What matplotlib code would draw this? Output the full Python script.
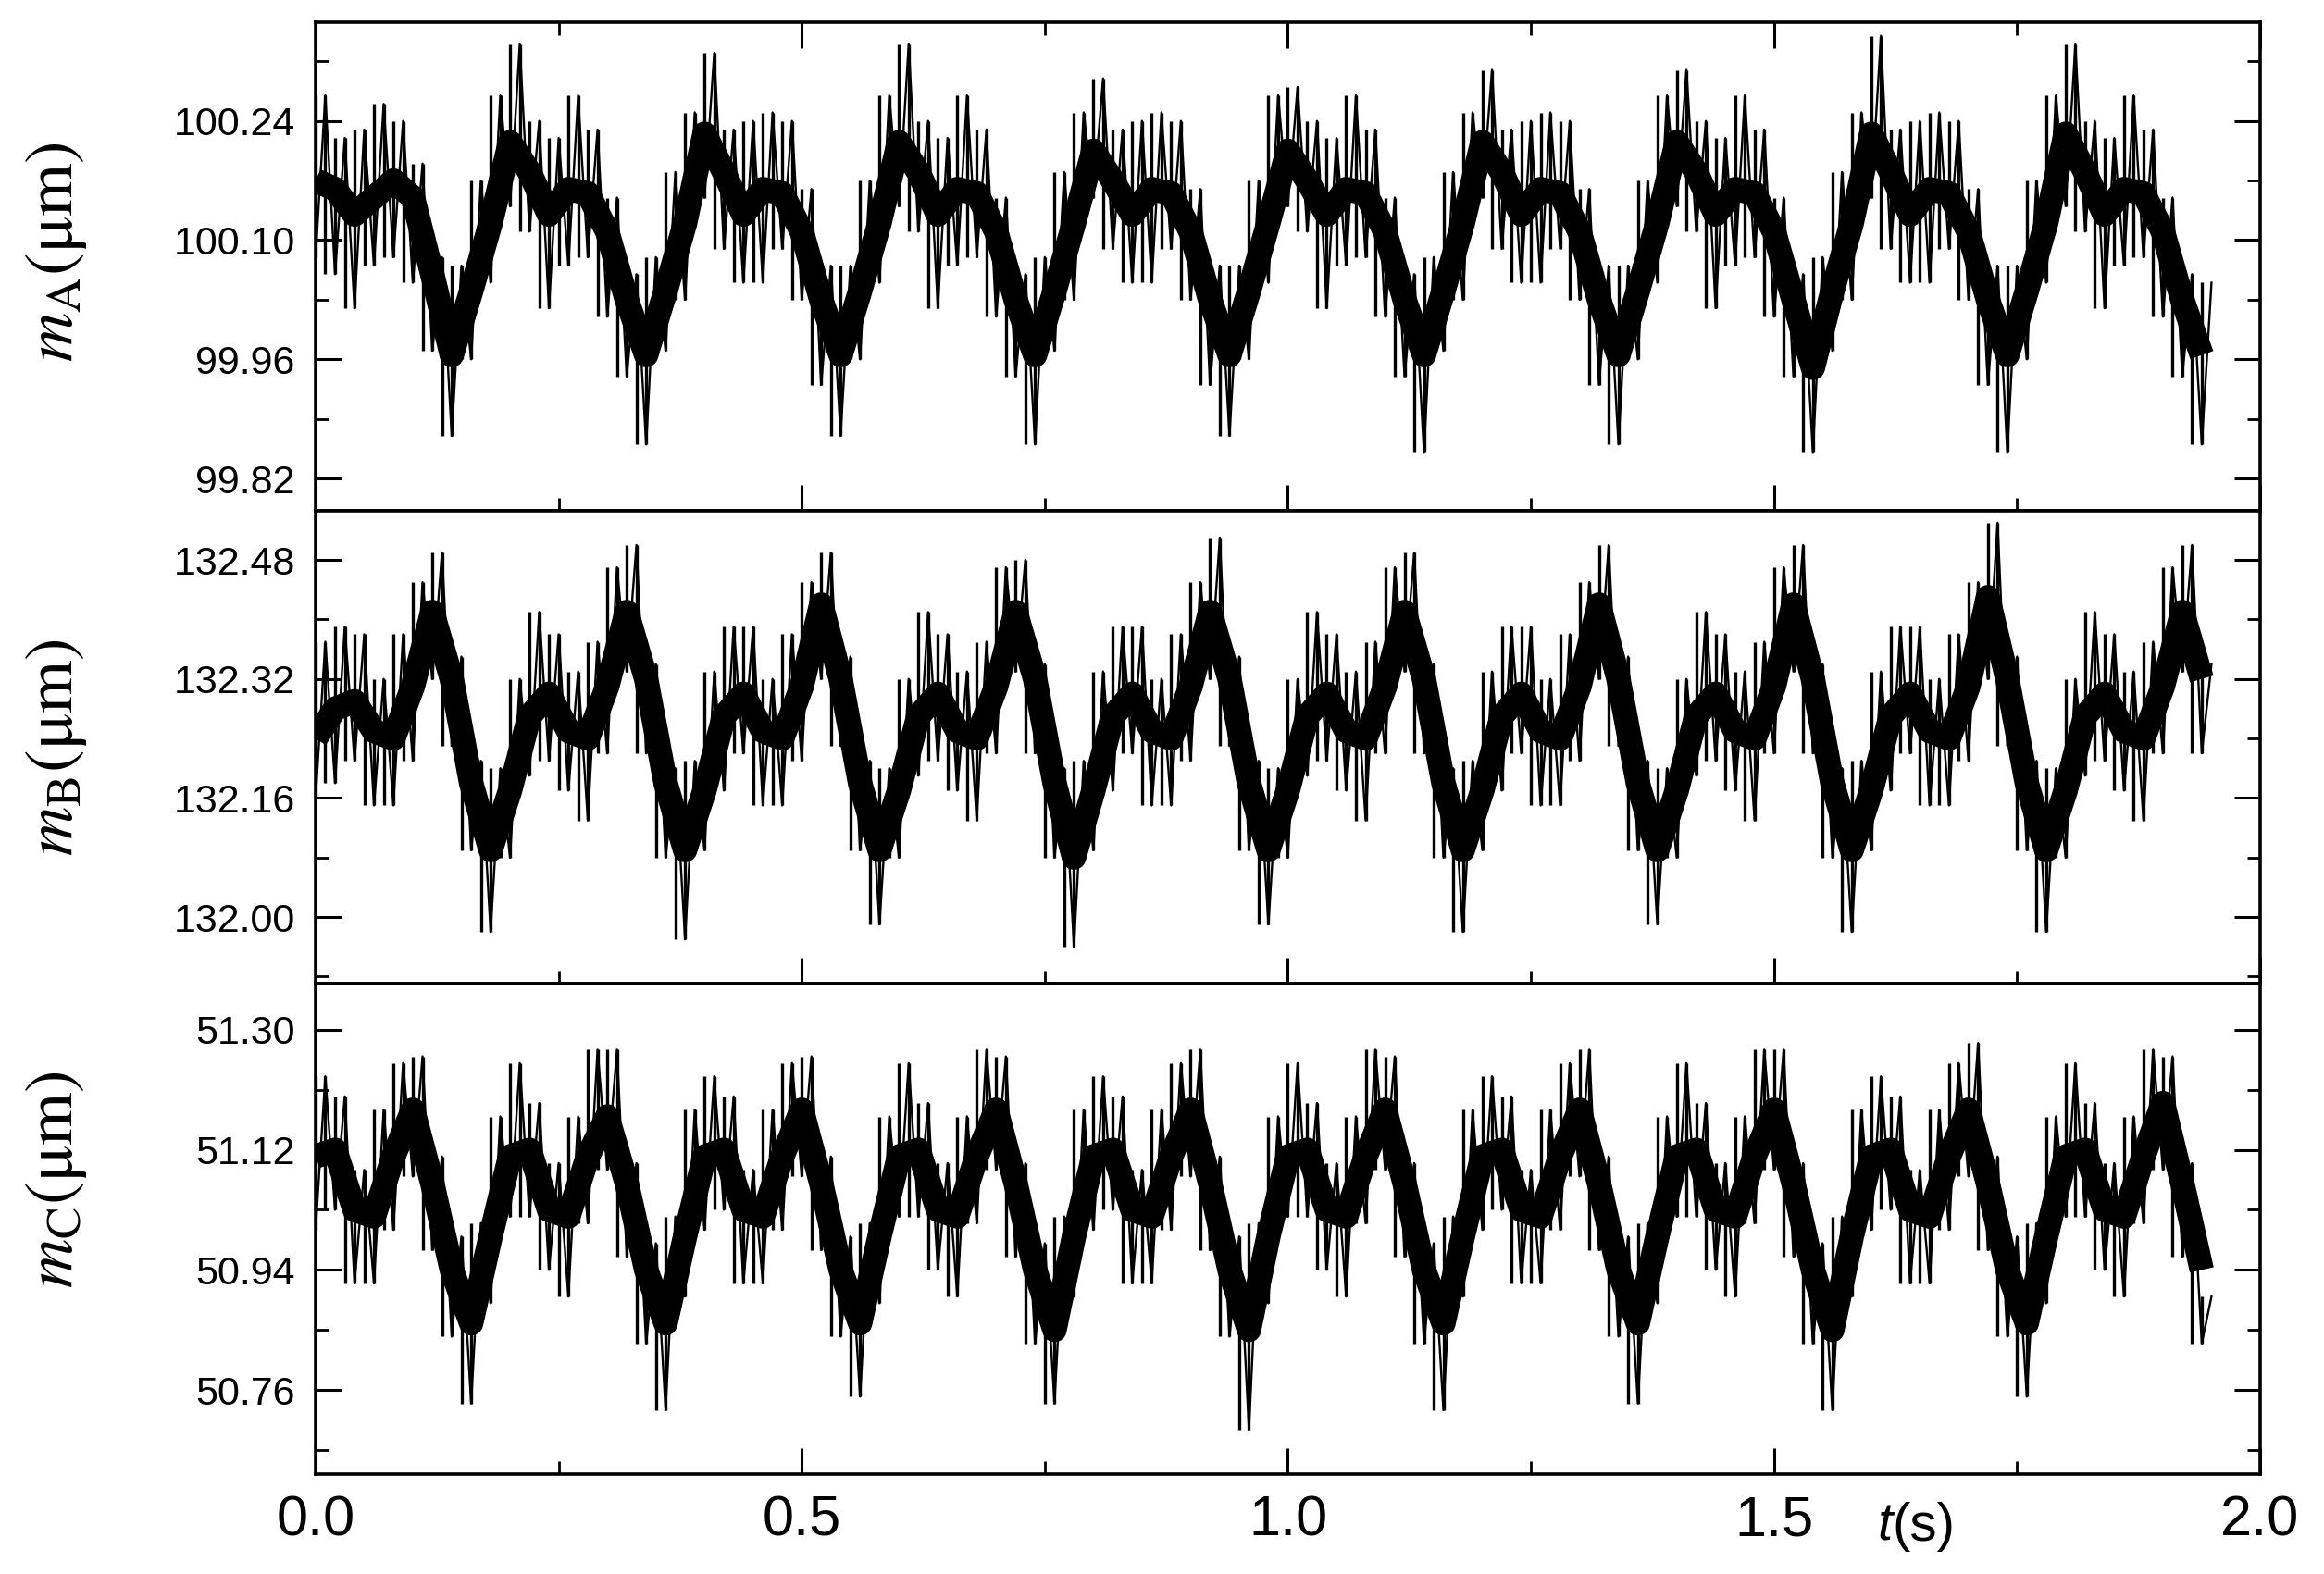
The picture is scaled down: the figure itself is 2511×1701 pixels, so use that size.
"""
Three stacked displacement traces m_A, m_B, m_C against time.
"""

import numpy as np
import matplotlib
matplotlib.use('Agg')
import matplotlib.pyplot as plt
from matplotlib.ticker import MultipleLocator, FormatStrFormatter

# Sample times of the raw traces (s) and of the trend line
t_trace = np.round(np.arange(196) * 0.01, 2)
t_core = np.round(np.arange(98) * 0.02, 2)

# Tips of the noise spikes (um), read at 0.01 s steps, alternating low / high
mA_trace = [
    100.08, 100.27, 100.06, 100.22, 100.02, 100.23, 100.07, 100.26, 100.08, 100.24, 100.05, 100.19, 99.97, 100.08,
    99.87, 100.07, 99.96, 100.17, 100.05, 100.27, 100.14, 100.33, 100.11, 100.24, 100.02, 100.22, 100.07, 100.27, 100.08, 100.23, 100.01, 100.15, 99.94, 100.06,
    99.86, 100.08, 99.97, 100.18, 100.03, 100.25, 100.15, 100.32, 100.09, 100.23, 100.05, 100.24, 100.05, 100.25, 100.09, 100.24, 100.03, 100.16, 99.93, 100.07,
    99.87, 100.07, 99.96, 100.17, 100.05, 100.27, 100.14, 100.33, 100.11, 100.24, 100.02, 100.22, 100.07, 100.27, 100.08, 100.23, 100.01, 100.15, 99.94, 100.06,
    99.86, 100.08, 99.97, 100.18, 100.03, 100.25, 100.15, 100.29, 100.09, 100.23, 100.05, 100.24, 100.05, 100.25, 100.09, 100.24, 100.03, 100.16, 99.93, 100.07,
    99.87, 100.07, 99.96, 100.17, 100.05, 100.27, 100.14, 100.28, 100.11, 100.24, 100.02, 100.22, 100.07, 100.27, 100.08, 100.23, 100.01, 100.15, 99.94, 100.06,
    99.85, 100.08, 99.97, 100.18, 100.03, 100.25, 100.15, 100.30, 100.09, 100.23, 100.05, 100.24, 100.05, 100.25, 100.09, 100.24, 100.03, 100.16, 99.93, 100.07,
    99.86, 100.07, 99.96, 100.17, 100.05, 100.27, 100.14, 100.30, 100.11, 100.24, 100.02, 100.22, 100.07, 100.27, 100.08, 100.23, 100.01, 100.15, 99.94, 100.06,
    99.85, 100.08, 99.97, 100.18, 100.03, 100.25, 100.15, 100.34, 100.09, 100.23, 100.05, 100.24, 100.05, 100.25, 100.09, 100.24, 100.03, 100.16, 99.93, 100.07,
    99.85, 100.07, 99.96, 100.17, 100.05, 100.27, 100.14, 100.33, 100.11, 100.24, 100.02, 100.22, 100.07, 100.27, 100.08, 100.23, 100.01, 100.15, 99.94, 100.06,
    99.86, 100.05,
]
mB_trace = [
    132.16, 132.37, 132.18, 132.39, 132.21, 132.38, 132.15, 132.32, 132.15, 132.38, 132.21, 132.45, 132.32, 132.49, 132.23, 132.35, 132.09, 132.21,
    131.98, 132.20, 132.08, 132.32, 132.19, 132.41, 132.21, 132.38, 132.17, 132.33, 132.13, 132.37, 132.22, 132.47, 132.33, 132.50, 132.22, 132.34, 132.08, 132.20,
    131.97, 132.21, 132.09, 132.33, 132.17, 132.39, 132.22, 132.39, 132.15, 132.32, 132.15, 132.38, 132.21, 132.45, 132.32, 132.49, 132.23, 132.35, 132.09, 132.21,
    131.99, 132.20, 132.08, 132.32, 132.19, 132.41, 132.21, 132.38, 132.17, 132.33, 132.13, 132.37, 132.22, 132.47, 132.33, 132.48, 132.22, 132.34, 132.08, 132.20,
    131.96, 132.21, 132.09, 132.33, 132.17, 132.39, 132.22, 132.39, 132.15, 132.32, 132.15, 132.38, 132.21, 132.45, 132.32, 132.51, 132.23, 132.35, 132.09, 132.21,
    131.99, 132.20, 132.08, 132.32, 132.19, 132.41, 132.21, 132.38, 132.17, 132.33, 132.13, 132.37, 132.22, 132.47, 132.33, 132.49, 132.22, 132.34, 132.08, 132.20,
    131.98, 132.21, 132.09, 132.33, 132.17, 132.39, 132.22, 132.39, 132.15, 132.32, 132.15, 132.38, 132.21, 132.45, 132.32, 132.50, 132.23, 132.35, 132.09, 132.21,
    131.99, 132.20, 132.08, 132.32, 132.19, 132.41, 132.21, 132.38, 132.17, 132.33, 132.13, 132.37, 132.22, 132.47, 132.33, 132.50, 132.22, 132.34, 132.08, 132.20,
    131.98, 132.21, 132.09, 132.33, 132.17, 132.39, 132.22, 132.39, 132.15, 132.32, 132.15, 132.38, 132.21, 132.45, 132.32, 132.53, 132.23, 132.35, 132.09, 132.21,
    131.98, 132.20, 132.08, 132.32, 132.19, 132.41, 132.21, 132.38, 132.17, 132.33, 132.13, 132.37, 132.22, 132.47, 132.33, 132.50, 132.22, 132.34,
]
mC_trace = [
    51.00, 51.23, 51.03, 51.20, 50.92, 51.09, 50.92, 51.18, 51.00, 51.25, 51.08, 51.26, 50.97, 51.11, 50.84, 50.99,
    50.74, 51.01, 50.89, 51.17, 51.02, 51.25, 51.02, 51.19, 50.94, 51.10, 50.90, 51.17, 51.01, 51.27, 51.09, 51.27, 50.96, 51.10, 50.83, 50.98,
    50.73, 51.02, 50.90, 51.18, 51.00, 51.23, 51.03, 51.20, 50.92, 51.09, 50.92, 51.18, 51.00, 51.25, 51.08, 51.26, 50.97, 51.11, 50.84, 50.99,
    50.75, 51.01, 50.89, 51.17, 51.02, 51.25, 51.02, 51.19, 50.94, 51.10, 50.90, 51.17, 51.01, 51.27, 51.09, 51.26, 50.96, 51.10, 50.83, 50.98,
    50.74, 51.02, 50.90, 51.18, 51.00, 51.23, 51.03, 51.20, 50.92, 51.09, 50.92, 51.18, 51.00, 51.25, 51.08, 51.27, 50.97, 51.11, 50.84, 50.99,
    50.70, 51.01, 50.89, 51.17, 51.02, 51.25, 51.02, 51.19, 50.94, 51.10, 50.90, 51.17, 51.01, 51.27, 51.09, 51.26, 50.96, 51.10, 50.83, 50.98,
    50.73, 51.02, 50.90, 51.18, 51.00, 51.23, 51.03, 51.20, 50.92, 51.09, 50.92, 51.18, 51.00, 51.25, 51.08, 51.27, 50.97, 51.11, 50.84, 50.99,
    50.74, 51.01, 50.89, 51.17, 51.02, 51.25, 51.02, 51.19, 50.94, 51.10, 50.90, 51.17, 51.01, 51.27, 51.09, 51.27, 50.96, 51.10, 50.83, 50.98,
    50.73, 51.02, 50.90, 51.18, 51.00, 51.23, 51.03, 51.20, 50.92, 51.09, 50.92, 51.18, 51.00, 51.25, 51.08, 51.28, 50.97, 51.11, 50.84, 50.99,
    50.75, 51.01, 50.89, 51.17, 51.02, 51.25, 51.02, 51.19, 50.94, 51.10, 50.90, 51.17, 51.01, 51.27, 51.09, 51.26, 50.96, 51.10, 50.83, 50.90,
]

# Trend (dark band) of each trace, read at 0.02 s steps
mA_core = [
    100.17, 100.16, 100.13, 100.15, 100.17, 100.15, 100.06,
    99.965, 100.04, 100.12, 100.215, 100.18, 100.13, 100.16, 100.155, 100.11, 100.03,
    99.965, 100.04, 100.12, 100.225, 100.18, 100.13, 100.16, 100.155, 100.11, 100.03,
    99.965, 100.04, 100.12, 100.215, 100.18, 100.13, 100.16, 100.155, 100.11, 100.03,
    99.965, 100.04, 100.12, 100.205, 100.17, 100.13, 100.16, 100.155, 100.11, 100.03,
    99.965, 100.04, 100.12, 100.205, 100.17, 100.13, 100.16, 100.155, 100.11, 100.03,
    99.965, 100.04, 100.12, 100.215, 100.18, 100.13, 100.16, 100.155, 100.11, 100.03,
    99.965, 100.04, 100.12, 100.215, 100.18, 100.13, 100.16, 100.155, 100.11, 100.03,
    99.950, 100.04, 100.12, 100.225, 100.18, 100.13, 100.16, 100.155, 100.11, 100.03,
    99.965, 100.04, 100.12, 100.225, 100.18, 100.13, 100.16, 100.155, 100.11, 100.03,
    99.965,
]
mB_core = [
    132.24, 132.28, 132.29, 132.25, 132.24, 132.31, 132.41, 132.32, 132.18,
    132.09, 132.17, 132.27, 132.30, 132.25, 132.24, 132.31, 132.41, 132.32, 132.18,
    132.09, 132.17, 132.27, 132.30, 132.25, 132.24, 132.31, 132.42, 132.32, 132.18,
    132.09, 132.17, 132.27, 132.30, 132.25, 132.24, 132.31, 132.41, 132.32, 132.18,
    132.08, 132.17, 132.27, 132.30, 132.25, 132.24, 132.31, 132.41, 132.32, 132.18,
    132.09, 132.17, 132.27, 132.30, 132.25, 132.24, 132.31, 132.41, 132.32, 132.18,
    132.09, 132.17, 132.27, 132.30, 132.25, 132.24, 132.31, 132.42, 132.32, 132.18,
    132.09, 132.17, 132.27, 132.30, 132.25, 132.24, 132.31, 132.42, 132.32, 132.18,
    132.09, 132.17, 132.27, 132.30, 132.25, 132.24, 132.31, 132.43, 132.32, 132.18,
    132.09, 132.17, 132.27, 132.30, 132.25, 132.24, 132.31, 132.41, 132.32,
]
mC_core = [
    51.11, 51.12, 51.03, 51.02, 51.11, 51.18, 51.07, 50.94,
    50.86, 50.99, 51.11, 51.12, 51.03, 51.02, 51.11, 51.17, 51.07, 50.94,
    50.86, 50.99, 51.11, 51.12, 51.03, 51.02, 51.11, 51.18, 51.07, 50.94,
    50.86, 50.99, 51.11, 51.12, 51.03, 51.02, 51.11, 51.18, 51.07, 50.94,
    50.85, 50.99, 51.11, 51.12, 51.03, 51.02, 51.11, 51.18, 51.07, 50.94,
    50.85, 50.99, 51.11, 51.12, 51.03, 51.02, 51.11, 51.18, 51.07, 50.94,
    50.86, 50.99, 51.11, 51.12, 51.03, 51.02, 51.11, 51.18, 51.07, 50.94,
    50.86, 50.99, 51.11, 51.12, 51.03, 51.02, 51.11, 51.18, 51.07, 50.94,
    50.85, 50.99, 51.11, 51.12, 51.03, 51.02, 51.11, 51.18, 51.07, 50.94,
    50.86, 50.99, 51.11, 51.12, 51.03, 51.02, 51.11, 51.19, 51.07, 50.94,
]

# Axis ticks and limits
x_ticks = [0.0, 0.5, 1.0, 1.5, 2.0]
yticks_A = [99.82, 99.96, 100.10, 100.24]
yticks_B = [132.00, 132.16, 132.32, 132.48]
yticks_C = [50.76, 50.94, 51.12, 51.30]
ylim_A = (99.782, 100.356)
ylim_B = (131.9105, 132.546)
ylim_C = (50.634, 51.369)

labels = [r'$m_{\mathrm{A}}$(μm)', r'$m_{\mathrm{B}}$(μm)', r'$m_{\mathrm{C}}$(μm)']

plt.rcParams['mathtext.fontset'] = 'stix'
plt.rcParams['font.family'] = ['Liberation Sans', 'DejaVu Sans']

fig = plt.figure(figsize=(25.11, 17.01), dpi=100)

# Axes rectangles (left, bottom, width, height) in figure fraction
rects = [
    [0.1358, 0.67548, 0.8367, 0.31040],
    [0.1358, 0.37507, 0.8367, 0.30041],
    [0.1358, 0.06349, 0.8367, 0.31158],
]
traces = [mA_trace, mB_trace, mC_trace]
cores = [mA_core, mB_core, mC_core]
yticks = [yticks_A, yticks_B, yticks_C]
ylims = [ylim_A, ylim_B, ylim_C]
minor_steps = [0.07, 0.08, 0.09]
label_y = [0.53, 0.50, 0.60]
narrow = ['Liberation Sans Narrow', 'Liberation Sans']

axes = []
for i in range(3):
    ax = fig.add_axes(rects[i])
    axes.append(ax)

    # Dark band of the signal
    ax.plot(t_core, cores[i], color='black', lw=19, solid_joinstyle='round', solid_capstyle='butt')

    # Noise: a stroke from each spike tip to the next, plus the trace itself
    y = np.asarray(traces[i])
    ax.vlines(t_trace[:-1], y[:-1], y[1:], color='black', lw=2.4)
    ax.plot(t_trace, y, color='black', lw=1.7)

    ax.set_xlim(0, 2.0)
    ax.set_ylim(*ylims[i])

    ax.set_xticks(x_ticks)
    ax.xaxis.set_minor_locator(MultipleLocator(0.25))
    ax.xaxis.set_major_formatter(FormatStrFormatter('%.1f'))
    ax.set_yticks(yticks[i])
    ax.yaxis.set_minor_locator(MultipleLocator(minor_steps[i]))
    ax.yaxis.set_major_formatter(FormatStrFormatter('%.2f'))

    ax.tick_params(which='both', direction='in', left=True, right=True, bottom=True,
                   top=(i == 0), labelbottom=(i == 2))
    ax.tick_params(which='major', length=20, width=2.2, labelsize=31, pad=16)
    ax.tick_params(which='minor', length=10, width=2.0)

    for side in ax.spines.values():
        side.set_linewidth(2.6)

    ax.set_ylabel(labels[i], fontsize=53, family='STIXGeneral')
    ax.yaxis.set_label_coords(-0.1166, label_y[i])

# Bottom axis labels use a narrow face
ax3 = axes[2]
ax3.tick_params(axis='x', which='major', labelsize=44, pad=16, labelfontfamily=narrow)

# Axis title t(s) sits between the 1.5 and 2.0 labels
ax3.text(1.622, -0.1075, 't', transform=ax3.get_xaxis_transform(), ha='right', va='center',
         fontsize=42, style='italic', family=narrow)
ax3.text(1.622, -0.1075, '(s)', transform=ax3.get_xaxis_transform(), ha='left', va='center',
         fontsize=42, family=narrow)

fig.savefig('out.png', dpi=100)
